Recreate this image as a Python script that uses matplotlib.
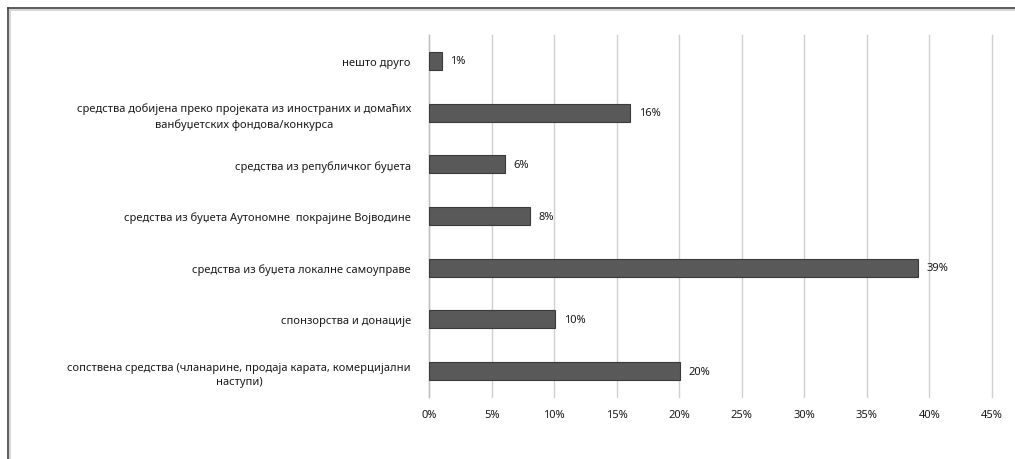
import matplotlib.pyplot as plt
from matplotlib.lines import Line2D
from matplotlib.ticker import FuncFormatter

# categories, top to bottom
categories = [
    'нешто друго',
    'средства добијена преко пројеката из иностраних и домаћих\nванбуџетских фондова/конкурса',
    'средства из републичког буџета',
    'средства из буџета Аутономне  покрајине Војводине',
    'средства из буџета локалне самоуправе',
    'спонзорства и донације',
    'сопствена средства (чланарине, продаја карата, комерцијални\nнаступи)',
]
values = [1.04, 16.1, 6.1, 8.1, 39.1, 10.1, 20.1]
value_labels = ['1%', '16%', '6%', '8%', '39%', '10%', '20%']
xticks = [0, 5, 10, 15, 20, 25, 30, 35, 40, 45]

plt.rcParams['font.family'] = ['Noto Sans', 'DejaVu Sans']

fig = plt.figure(figsize=(10.15, 4.6), dpi=100)
ax = fig.add_axes([429 / 1015, 1 - 398 / 460, (992 - 429) / 1015, (398 - 36) / 460])

ypos = list(range(len(categories)))
ax.barh(ypos, values, height=0.35, color='#595959', edgecolor='#3a3a3a', linewidth=0.8, zorder=3)

for y, v, lab in zip(ypos, values, value_labels):
    ax.annotate(lab, (v, y), xytext=(6, 0), textcoords='offset points',
                va='center', ha='left', fontsize=8, color='#1a1a1a')

ax.set_xlim(0, 45)
ax.set_ylim(len(categories) - 0.5, -0.5)
ax.set_xticks(xticks)
ax.xaxis.set_major_formatter(FuncFormatter(lambda v, p: f'{v:.0f}%'))
ax.set_yticks(ypos)
ax.set_yticklabels(categories)
for t in ax.get_yticklabels():
    t.set_multialignment('center')
    t.set_linespacing(1.45)

ax.tick_params(axis='x', length=0, labelsize=8, colors='#1a1a1a', pad=9)
ax.tick_params(axis='y', length=0, labelsize=8, colors='#1a1a1a', pad=13)
ax.grid(axis='x', color='#d0d0d0', linewidth=1, zorder=0)
for gl in ax.get_xgridlines():
    gl.set_clip_on(False)
for s in ['top', 'right', 'bottom']:
    ax.spines[s].set_visible(False)
ax.spines['left'].set_color('#bfbfbf')
ax.spines['left'].set_linewidth(1)

# outer frame (top and left edges only)
fig.add_artist(Line2D([8 / 1015, 1], [1 - 9 / 460, 1 - 9 / 460], color='#404040', lw=1.2))
fig.add_artist(Line2D([8 / 1015, 8 / 1015], [0, 1 - 9 / 460], color='#404040', lw=1.2))
fig.add_artist(Line2D([10 / 1015, 1], [1 - 11 / 460, 1 - 11 / 460], color='#d0d0d0', lw=1.2))
fig.add_artist(Line2D([10 / 1015, 10 / 1015], [0, 1 - 11 / 460], color='#d0d0d0', lw=1.2))

fig.savefig('out.png', dpi=100)
